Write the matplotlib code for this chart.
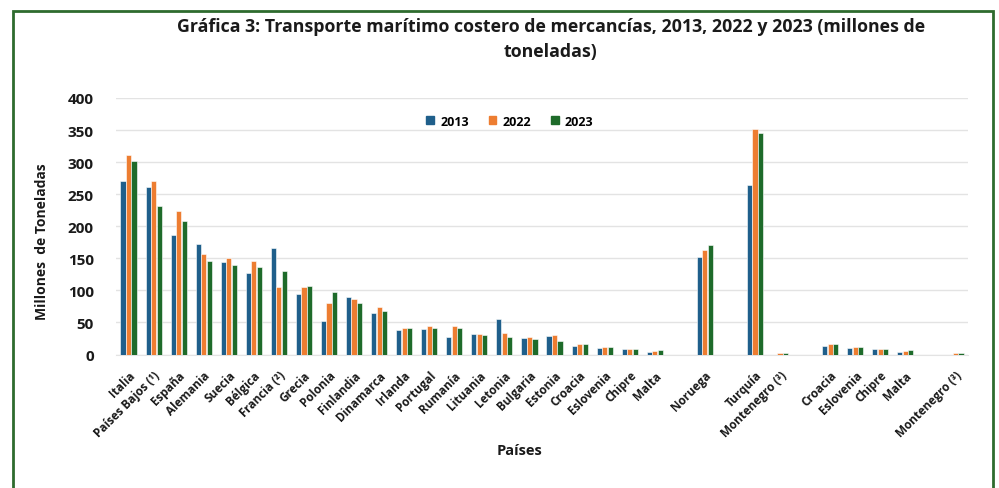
import matplotlib
matplotlib.use('Agg')
import matplotlib.pyplot as plt
from matplotlib.patches import Rectangle, Patch
import numpy as np

nan = np.nan

# categories (blank entries are the gaps between groups)
cats = ['Italia', 'Países Bajos (¹)', 'España', 'Alemania', 'Suecia', 'Bélgica',
        'Francia (²)', 'Grecia', 'Polonia', 'Finlandia', 'Dinamarca', 'Irlanda',
        'Portugal', 'Rumanía', 'Lituania', 'Letonia', 'Bulgaria', 'Estonia',
        'Croacia', 'Eslovenia', 'Chipre', 'Malta', '', 'Noruega', '', 'Turquía',
        'Montenegro (³)', '', 'Croacia', 'Eslovenia', 'Chipre', 'Malta', '',
        'Montenegro (³)']

v2013 = [271, 261, 186, 172, 145, 127, 166, 94, 52, 89, 65, 38, 40, 27, 32, 56,
         25, 29, 13, 10, 8, 4, nan, 152, nan, 264, nan, nan, 13, 10, 8, 4, nan, nan]
v2022 = [311, 270, 224, 156, 150, 146, 106, 106, 80, 86, 74, 42, 45, 45, 32, 34,
         27, 30, 16, 12, 8.5, 5.5, nan, 163, nan, 352, 2, nan, 16, 12, 8.5, 6, nan, 2]
v2023 = [302, 231, 208, 146, 140, 137, 130, 107, 97, 80, 68, 42, 42, 41, 30, 27,
         24, 21, 16, 11, 8.5, 6.5, nan, 171, nan, 345, 2, nan, 16, 11, 8.5, 7, nan, 2]

years = ['2013', '2022', '2023']
colors = ['#1F5F8B', '#ED7D31', '#1E6B2A']

plt.rcParams['font.family'] = ['Open Sans', 'DejaVu Sans']
txt = '#1a1a1a'

fig = plt.figure(figsize=(9.99, 4.89), dpi=100)
ax = fig.add_axes([116/999, 1-355.5/489, 852/999, 256.5/489])

x = np.arange(len(cats))
w = 0.205
for i, (vals, c) in enumerate(zip([v2013, v2022, v2023], colors)):
    ax.bar(x + (i-1)*0.22, vals, w, color=c, edgecolor='white', linewidth=0.4,
           label=years[i], zorder=3)

ax.set_xlim(-0.5, len(cats)-0.5)
ax.set_ylim(0, 400)
ax.set_yticks(range(0, 401, 50))
ax.yaxis.grid(True, color='#e3e3e3', linewidth=1, zorder=0)
for s in ['top', 'right', 'left']:
    ax.spines[s].set_visible(False)
ax.spines['bottom'].set_color('#e3e3e3')
ax.tick_params(axis='both', length=0)
ax.tick_params(axis='y', pad=16)
ax.tick_params(axis='x', pad=10)
ax.set_xticks(x)
ax.set_xticklabels(cats, rotation=45, ha='right', rotation_mode='anchor',
                   fontsize=8.5, fontweight='bold', color=txt)
for lab in ax.get_yticklabels():
    lab.set_fontsize(11)
    lab.set_fontweight('bold')
    lab.set_color(txt)

handles = [Patch(color=c) for c in colors]
fig.legend(handles, years, loc='center', bbox_to_anchor=(510/999, 1-122/489),
           ncol=3, frameon=False, handlelength=0.6, handleheight=0.6,
           handletextpad=0.5, columnspacing=1.6,
           prop={'weight': 'bold', 'size': 9})

fig.text(551/999, 1-39/489,
         'Gráfica 3: Transporte marítimo costero de mercancías, 2013, 2022 y 2023 (millones de\ntoneladas)',
         ha='center', va='center', fontsize=12.8, fontweight='bold', color=txt,
         linespacing=1.5)
fig.text(42/999, 1-242/489, 'Millones  de Toneladas', rotation=90, ha='center',
         va='center', fontsize=10, fontweight='bold', color=txt)
fig.text(519/999, 1-451/489, 'Países', ha='center', va='center', fontsize=10.5,
         fontweight='bold', color=txt)

fig.add_artist(Rectangle((13/999, -0.05), 980/999, 1.05-12/489, fill=False,
                         edgecolor='#2E6B2E', linewidth=2,
                         transform=fig.transFigure, clip_on=False))

fig.savefig('out.png', dpi=100)
